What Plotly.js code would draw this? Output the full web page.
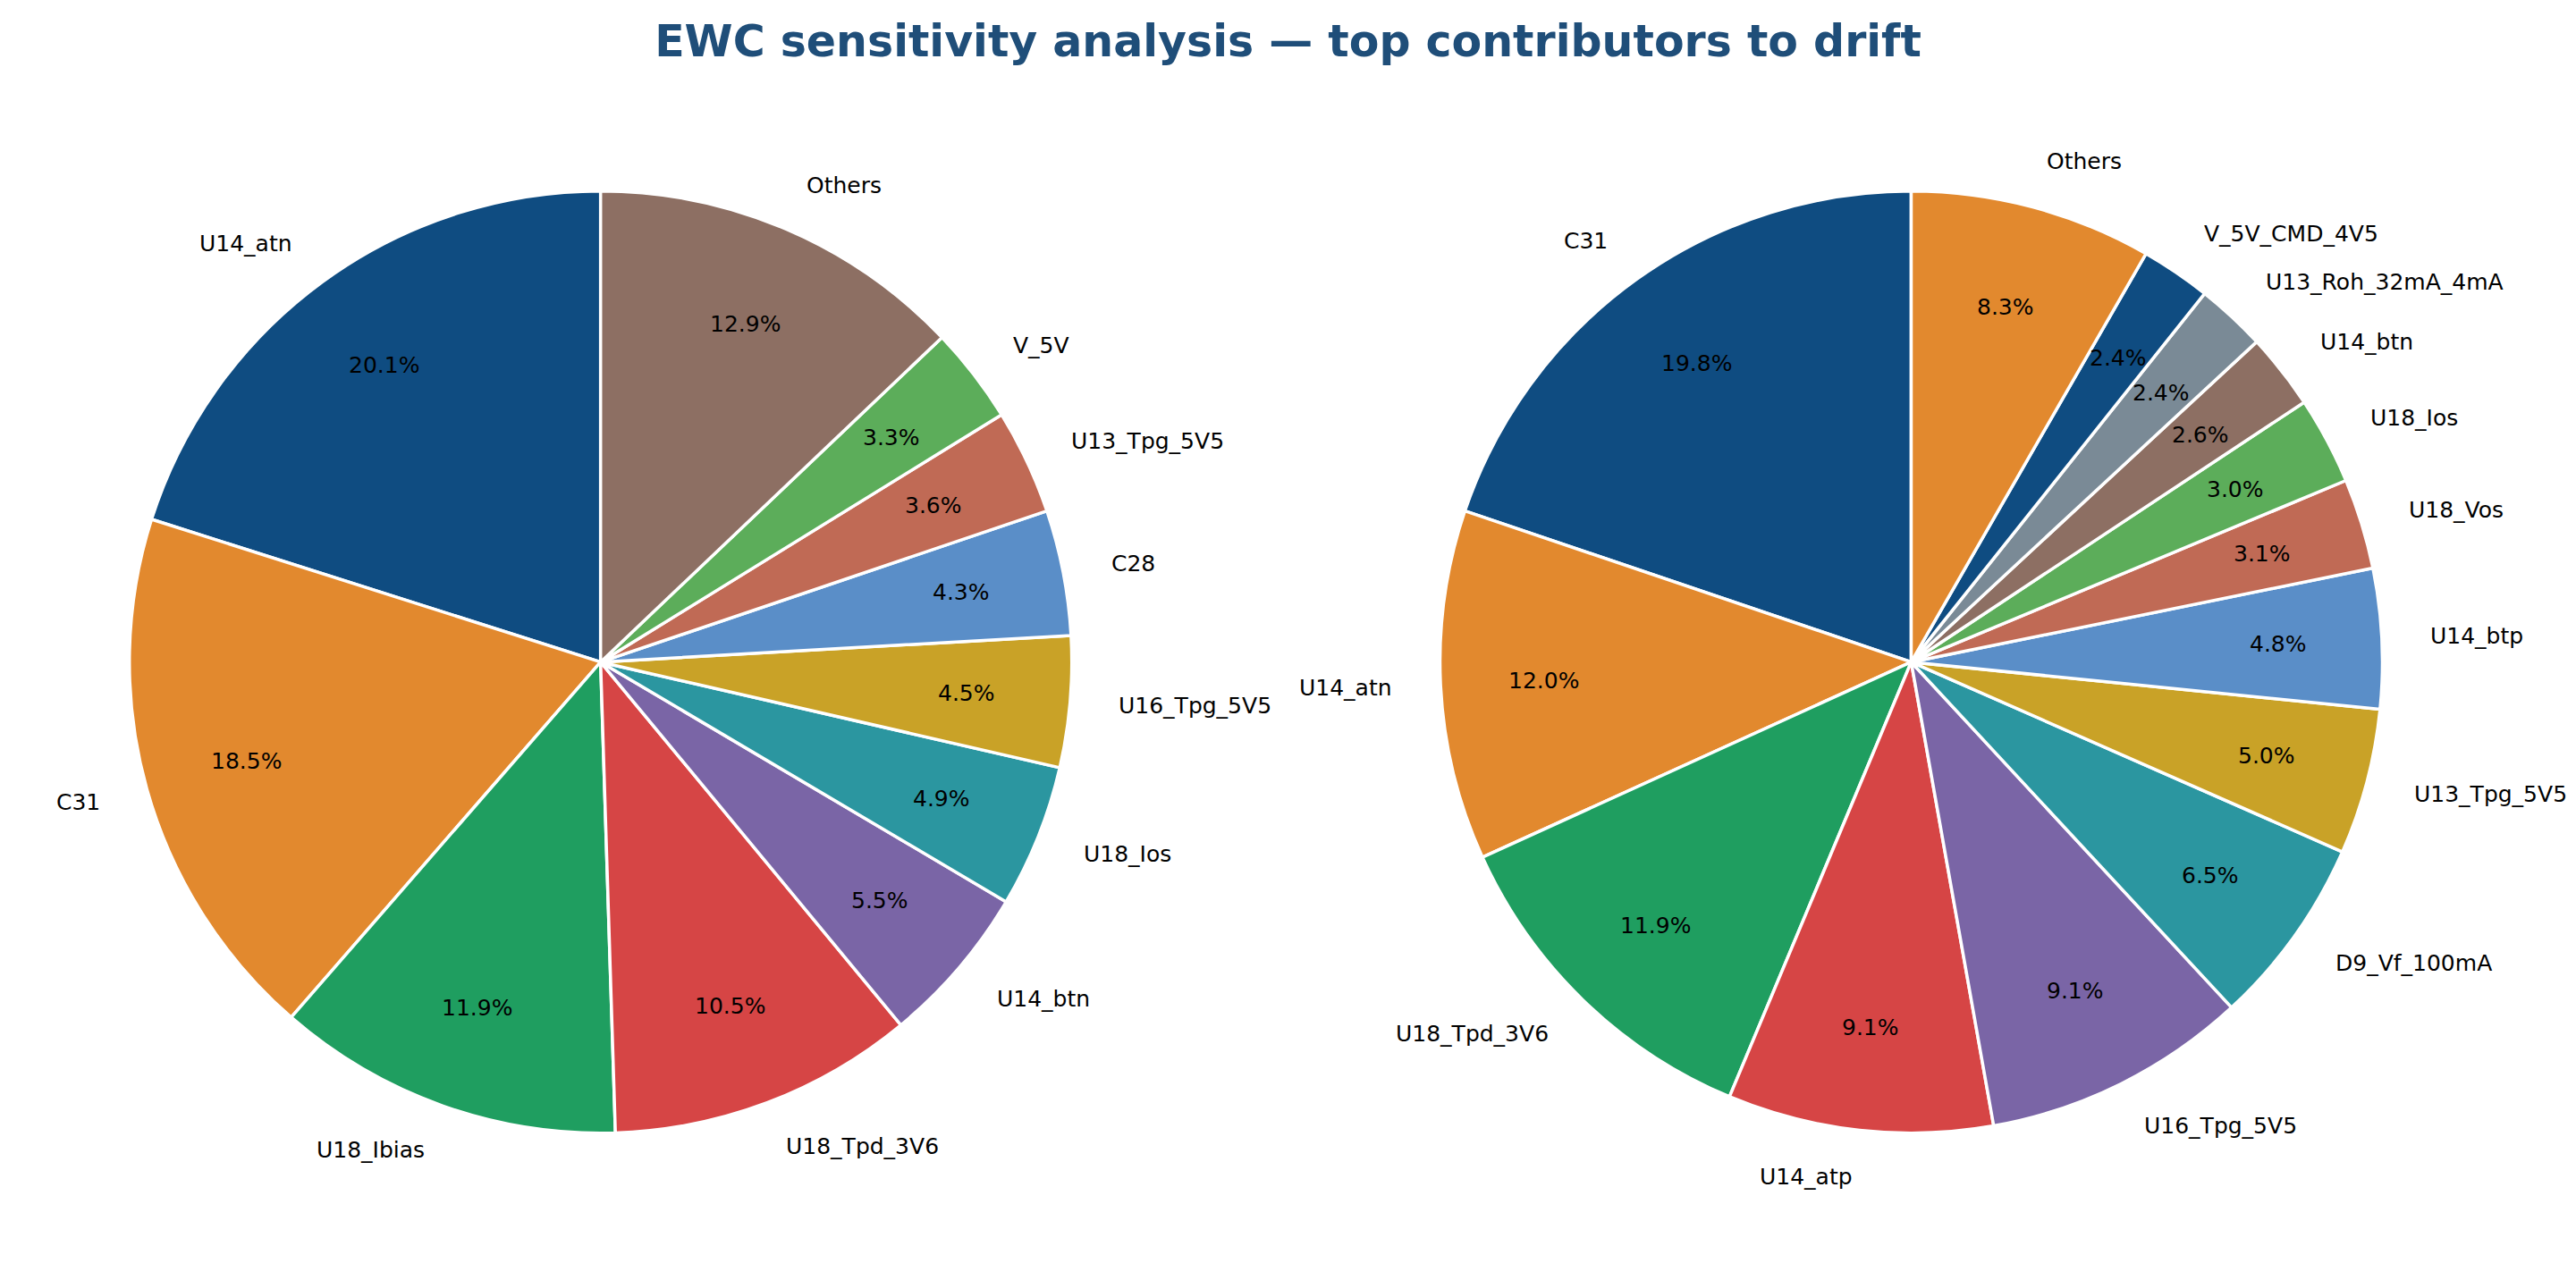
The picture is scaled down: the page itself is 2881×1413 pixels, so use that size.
<!DOCTYPE html>
<html>
<head>
<meta charset="utf-8">
<script src="https://cdn.plot.ly/plotly-3.0.1.min.js"></script>
<style>html,body{margin:0;padding:0;background:#fff;}#chart{width:2881px;height:1413px;}</style>
</head>
<body>
<div id="chart"></div>
<script>
// ---- data ----
const titleText = "EWC sensitivity analysis \u2014 top contributors to drift";

const leftLabels = ["U14_atn", "C31", "U18_Ibias", "U18_Tpd_3V6", "U14_btn", "U18_Ios", "U16_Tpg_5V5", "C28", "U13_Tpg_5V5", "V_5V", "Others"];
const leftValues = [20.1, 18.5, 11.9, 10.5, 5.5, 4.9, 4.5, 4.3, 3.6, 3.3, 12.9];

const rightLabels = ["C31", "U14_atn", "U18_Tpd_3V6", "U14_atp", "U16_Tpg_5V5", "D9_Vf_100mA", "U13_Tpg_5V5", "U14_btp", "U18_Vos", "U18_Ios", "U14_btn", "U13_Roh_32mA_4mA", "V_5V_CMD_4V5", "Others"];
const rightValues = [19.8, 12.0, 11.9, 9.1, 9.1, 6.5, 5.0, 4.8, 3.1, 3.0, 2.6, 2.4, 2.4, 8.3];

const palette = ["#0f4c81", "#e2892e", "#1f9e60", "#d64545", "#7a65a6", "#2b96a0", "#c9a227", "#5a8ec8", "#c06a55", "#5cad5a", "#8d6f63", "#7a8a96"];

// ---- layout geometry ----
const W = 2881, H = 1413;
const R = 527;
const centers = [[671.7, 740.7], [2137.5, 740.7]];
const pctDist = 0.78, lblDist = 1.1;
const FONT = "DejaVu Sans, Liberation Sans, sans-serif";

function colorsFor(n) { const c = []; for (let i = 0; i < n; i++) c.push(palette[i % palette.length]); return c; }

function pieTrace(labels, values, ci) {
  const [cx, cy] = centers[ci];
  const total = values.reduce((a, b) => a + b, 0);
  return {
    type: "pie", labels: labels, values: values, sort: false,
    direction: "counterclockwise",
    // first slice starts at 12 o'clock and runs counterclockwise
    rotation: -360 * values[0] / total,
    textinfo: "none", hoverinfo: "label+percent",
    marker: { colors: colorsFor(labels.length), line: { color: "#ffffff", width: 3.5 } },
    domain: { x: [(cx - R) / W, (cx + R) / W], y: [(H - cy - R) / H, (H - cy + R) / H] },
    showlegend: false
  };
}

function pieAnnotations(labels, values, ci) {
  const [cx, cy] = centers[ci];
  const total = values.reduce((a, b) => a + b, 0);
  const out = [];
  let cum = 0;
  for (let i = 0; i < values.length; i++) {
    const mid = cum + values[i] / 2;
    cum += values[i];
    const ang = (90 + 360 * mid / total) * Math.PI / 180;
    const c = Math.cos(ang), s = Math.sin(ang);
    out.push({
      xref: "paper", yref: "paper",
      x: (cx + pctDist * R * c) / W, y: 1 - (cy - pctDist * R * s) / H,
      xanchor: "center", yanchor: "middle", showarrow: false,
      text: (values[i] / total * 100).toFixed(1) + "%",
      font: { family: FONT, size: 25, color: "#000000" }
    });
    out.push({
      xref: "paper", yref: "paper",
      x: (cx + lblDist * R * c) / W, y: 1 - (cy - lblDist * R * s) / H,
      xanchor: c >= 0 ? "left" : "right", yanchor: "middle", showarrow: false,
      text: labels[i],
      font: { family: FONT, size: 25, color: "#000000" }
    });
  }
  return out;
}

const data = [pieTrace(leftLabels, leftValues, 0), pieTrace(rightLabels, rightValues, 1)];
const layout = {
  width: W, height: H,
  margin: { l: 0, r: 0, t: 0, b: 0 },
  paper_bgcolor: "#ffffff", plot_bgcolor: "#ffffff",
  title: {
    text: titleText, x: 0.5, xanchor: "center", xref: "paper",
    y: 1 - 46 / H, yanchor: "middle", yref: "container",
    font: { family: FONT, size: 49, color: "#1f4e79", weight: "bold" }
  },
  annotations: pieAnnotations(leftLabels, leftValues, 0).concat(pieAnnotations(rightLabels, rightValues, 1)),
  showlegend: false
};
Plotly.newPlot("chart", data, layout, { displayModeBar: false, staticPlot: true });
</script>
</body>
</html>
